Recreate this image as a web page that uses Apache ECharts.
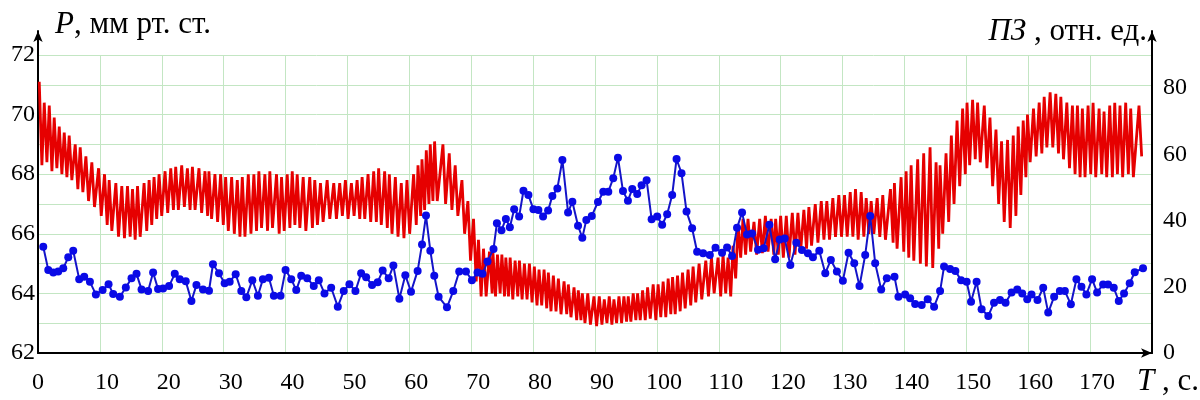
<!DOCTYPE html>
<html>
<head>
<meta charset="utf-8">
<script src="https://cdn.jsdelivr.net/npm/echarts@6.0.0/dist/echarts.min.js"></script>
<style>
html,body{margin:0;padding:0;background:#fff;}
#chart{width:1200px;height:400px;}
</style>
</head>
<body>
<div id="chart"></div>
<script>
// время ударов (с), по синим точкам
var beatT = [
 0.85,1.66,2.47,3.27,4.08,4.89,5.69,6.66,7.47,8.39,
 9.35,10.44,11.40,12.15,13.23,14.19,15.11,15.92,16.73,17.79,
 18.60,19.40,20.21,21.18,22.10,22.90,23.87,24.79,25.60,26.66,
 27.63,28.27,29.24,30.16,30.97,31.94,32.85,33.66,34.63,35.53,
 36.34,37.31,38.11,39.19,40.00,40.92,41.73,42.53,43.50,44.56,
 45.37,46.29,47.37,48.44,49.40,50.32,51.29,52.21,53.02,53.98,
 54.89,55.69,56.66,57.42,58.39,59.35,60.27,61.34,62.05,62.69,
 63.39,64.03,64.73,66.08,67.10,68.06,69.15,70.11,71.02,71.82,
 72.63,73.60,74.15,74.89,75.60,76.24,76.94,77.74,78.44,79.24,
 80.05,80.85,81.61,82.42,83.11,83.92,84.73,85.65,86.34,87.26,
 87.95,88.60,89.48,90.48,91.34,92.15,92.95,93.71,94.52,95.32,
 96.02,96.82,97.53,98.34,99.15,100.05,100.85,101.66,102.47,103.18,
 103.98,104.79,105.69,106.50,107.47,108.55,109.47,110.53,111.34,112.15,
 112.95,113.76,114.56,115.37,116.34,117.26,118.18,119.11,119.84,120.65,
 121.56,122.53,123.44,124.40,125.21,126.24,127.21,128.11,129.08,130.05,
 130.97,131.89,132.74,133.66,134.47,135.27,136.24,137.15,138.39,139.03,
 140.11,140.92,141.73,142.79,143.76,144.79,145.76,146.40,147.37,148.23,
 149.15,150.05,150.76,151.66,152.47,153.55,154.47,155.44,156.34,157.31,
 158.23,159.03,159.84,160.53,161.50,162.42,163.23,164.19,165.11,165.92,
 166.89,167.79,168.60,169.40,170.32,171.13,172.10,172.90,173.82,174.63,
 175.48,176.40,177.21,178.55
];
// ПЗ, отн. ед.
var pzVal = [
 32.1,25.1,24.3,24.6,25.6,28.9,30.9,22.3,23.0,21.5,
 17.7,19.0,20.8,17.8,17.0,19.8,22.6,23.9,19.2,18.7,
 24.3,19.3,19.5,20.2,23.9,22.3,21.7,15.7,20.5,19.2,
 18.8,26.8,24.1,21.1,21.5,23.8,18.7,16.8,22.0,17.3,
 22.3,22.7,17.3,17.3,25.1,22.3,19.0,23.3,22.6,20.2,
 22.0,18.0,19.7,14.0,18.7,20.8,18.7,24.1,22.9,20.5,
 21.4,24.9,22.6,26.4,16.4,23.5,18.5,24.8,32.8,41.5,
 30.9,23.3,17.0,13.8,18.7,24.6,24.6,22.0,24.3,23.9,
 27.6,31.4,39.2,37.1,40.5,38.0,43.4,41.2,49.0,47.7,
 43.4,43.2,41.2,43.0,47.4,49.7,58.3,42.4,45.7,38.4,
 34.8,40.2,41.4,45.6,48.7,48.7,52.8,59.0,48.9,46.0,
 49.5,48.0,50.7,52.2,40.4,41.2,38.7,41.9,47.7,58.6,
 54.3,42.7,37.7,30.6,30.1,29.6,31.8,30.3,31.9,29.3,
 37.8,42.4,35.8,36.1,31.2,31.6,38.7,28.3,34.3,34.6,
 26.6,33.3,31.1,30.1,28.9,30.9,24.1,28.1,24.6,21.8,
 30.3,27.1,20.2,29.6,41.4,27.1,19.2,22.6,23.0,17.0,
 17.7,16.5,14.8,14.5,16.2,14.0,18.7,26.1,25.4,24.8,
 22.0,21.5,15.5,21.5,13.2,11.2,15.2,16.0,15.2,18.3,
 19.2,18.0,16.2,17.7,16.0,19.7,12.2,17.0,18.7,18.7,
 14.7,22.3,20.0,17.7,22.3,18.3,20.7,20.7,19.7,15.7,
 18.0,21.1,24.4,25.6
];
// P, мм рт. ст. — максимумы в каждом ударе
var pHigh = [
 71.1,70.4,70.3,69.9,69.6,69.4,69.3,69.0,68.9,68.6,
 68.4,68.2,68.0,67.8,67.7,67.6,67.6,67.5,67.6,67.7,
 67.8,67.9,68.0,68.1,68.2,68.25,68.3,68.2,68.25,68.2,
 68.1,68.1,68.0,68.0,67.9,67.9,67.8,67.9,68.0,68.0,
 68.1,68.0,68.1,68.0,67.9,68.0,68.1,68.0,67.9,67.9,
 67.8,67.7,67.8,67.7,67.7,67.8,67.7,67.8,67.9,68.0,
 68.1,68.2,68.1,68.0,67.9,67.7,67.8,68.0,68.3,68.5,
 68.8,69.0,69.1,69.0,68.7,68.3,67.8,67.1,66.5,65.8,
 65.5,65.4,65.4,65.3,65.3,65.2,65.2,65.1,65.1,65.0,
 65.0,64.9,64.8,64.8,64.7,64.6,64.5,64.4,64.3,64.2,
 64.1,64.0,64.0,63.9,63.9,63.8,63.9,63.8,63.9,63.9,
 63.9,64.0,64.0,64.1,64.2,64.3,64.3,64.4,64.5,64.55,
 64.6,64.7,64.8,64.9,65.0,65.1,65.2,65.2,65.3,65.2,
 65.6,66.3,66.5,66.5,66.4,66.5,66.6,66.5,66.5,66.6,
 66.6,66.7,66.7,66.8,66.9,67.0,67.1,67.1,67.2,67.3,
 67.3,67.4,67.5,67.4,67.2,67.1,67.2,67.3,67.5,67.7,
 67.9,68.1,68.3,68.5,68.7,68.9,68.4,68.3,68.7,69.3,
 69.8,70.2,70.4,70.5,70.4,70.3,69.9,69.5,69.1,69.15,
 69.3,69.6,69.8,70.0,70.2,70.4,70.6,70.75,70.7,70.6,
 70.4,70.3,70.3,70.2,70.3,70.4,70.2,70.1,70.3,70.4,
 70.3,70.4,70.2,70.3
];
// минимумы
var pLow = [
 68.3,68.4,68.1,68.2,68.0,67.9,67.8,67.5,67.4,67.1,
 66.9,66.6,66.3,66.1,65.9,65.85,65.9,65.8,65.9,66.1,
 66.3,66.5,66.6,66.7,66.8,66.8,66.9,66.8,66.8,66.7,
 66.6,66.5,66.4,66.3,66.1,66.0,65.9,65.9,66.0,66.1,
 66.2,66.1,66.2,66.0,66.1,66.2,66.3,66.2,66.1,66.2,
 66.3,66.4,66.5,66.5,66.6,66.5,66.6,66.5,66.5,66.4,
 66.4,66.3,66.2,66.0,65.9,65.85,66.0,66.3,66.6,66.8,
 67.0,67.1,67.1,67.0,66.8,66.6,66.0,65.1,64.4,63.9,
 63.9,64.0,63.9,64.0,63.9,63.9,63.8,63.9,63.8,63.8,
 63.7,63.6,63.6,63.5,63.4,63.4,63.3,63.3,63.2,63.1,
 63.1,63.0,62.95,62.9,62.95,63.0,62.95,63.0,63.0,63.05,
 63.05,63.1,63.1,63.1,63.15,63.1,63.2,63.2,63.3,63.3,
 63.4,63.5,63.6,63.7,63.8,63.9,64.0,63.9,64.0,63.9,
 64.5,65.2,65.3,65.4,65.3,65.35,65.4,65.3,65.3,65.2,
 65.2,65.3,65.4,65.5,65.6,65.7,65.8,65.8,65.9,65.9,
 65.9,65.9,65.8,65.9,66.0,66.0,65.9,65.8,65.7,65.5,
 65.4,65.2,65.1,65.0,64.9,64.85,65.5,66.0,66.4,67.0,
 67.6,68.0,68.3,68.5,68.4,68.2,67.6,67.0,66.4,66.2,
 66.6,67.3,67.9,68.4,68.6,68.7,68.9,68.9,68.7,68.5,
 68.2,68.0,67.9,67.9,68.0,67.9,68.0,67.9,67.9,68.0,
 67.9,68.0,67.9,68.6
];
var xTicks = [0,10,20,30,40,50,60,70,80,90,100,110,120,130,140,150,160,170];

var FONT = 'Liberation Serif';
// положение максимума и минимума внутри удара, с
var peakShift = 0.65, lowShift = 0.22;

var redData = [];
for (var i = 0; i < beatT.length; i++) {
	redData.push([Math.max(0, beatT[i] - peakShift), pHigh[i]]);
	redData.push([beatT[i] - lowShift, pLow[i]]);
}
var blueData = [];
for (var j = 0; j < beatT.length; j++) {
	blueData.push([beatT[j], pzVal[j]]);
}

var myChart = echarts.init(document.getElementById('chart'));
var option = {
	animation: false,
	backgroundColor: '#fff',
	grid: [
		{left: 38, right: 48, top: 55, bottom: 47},
		{left: 38, right: 48, top: 31, bottom: 47}
	],
	xAxis: [
		{
			type: 'value', gridIndex: 0, min: 0, max: 180, interval: 10,
			axisLine: {show: true, symbol: ['none', 'arrow'], symbolSize: [7, 11],
				lineStyle: {color: '#000', width: 2}},
			axisTick: {show: false},
			splitLine: {show: true, lineStyle: {color: '#c3e6c3', width: 1}},
			axisLabel: {
				margin: 18, color: '#000', fontFamily: FONT, fontSize: 24,
				formatter: function(v) {
					if (xTicks.indexOf(v) < 0) return '';
					return v === 0 ? '{z|0}' : '{n|' + v + '}';
				},
				rich: {
					z: {fontFamily: FONT, fontSize: 24, color: '#000'},
					n: {fontFamily: FONT, fontSize: 24, color: '#000', padding: [0, 0, 0, 14]}
				}
			}
		},
		{type: 'value', gridIndex: 1, min: 0, max: 180, show: false}
	],
	yAxis: [
		{
			type: 'value', gridIndex: 0, min: 62, max: 72, interval: 1, position: 'left',
			axisLine: {show: false},
			axisTick: {show: false},
			splitLine: {show: true, lineStyle: {color: '#c3e6c3', width: 1}},
			axisLabel: {
				margin: 3, color: '#000', fontFamily: FONT, fontSize: 24,
				formatter: function(v) { return v % 2 === 0 ? String(v) : ''; }
			}
		},
		{
			type: 'value', gridIndex: 0, min: 0, max: 90, interval: 10, position: 'right',
			axisLine: {show: false},
			axisTick: {show: false},
			splitLine: {show: false},
			axisLabel: {
				margin: 11, color: '#000', fontFamily: FONT, fontSize: 24,
				formatter: function(v) { return (v % 20 === 0 && v <= 80) ? String(v) : ''; }
			}
		},
		{
			type: 'value', gridIndex: 1, position: 'left', min: 0, max: 1,
			axisLine: {show: true, symbol: ['none', 'arrow'], symbolSize: [7, 11],
				lineStyle: {color: '#000', width: 2}},
			axisTick: {show: false}, axisLabel: {show: false}, splitLine: {show: false}
		},
		{
			type: 'value', gridIndex: 1, position: 'right', min: 0, max: 1,
			axisLine: {show: true, symbol: ['none', 'arrow'], symbolSize: [7, 11],
				lineStyle: {color: '#000', width: 2}},
			axisTick: {show: false}, axisLabel: {show: false}, splitLine: {show: false}
		}
	],
	graphic: [
		{
			type: 'text', left: 55, top: 9,
			style: {
				text: '{i|P}, мм рт. ст.', fill: '#000',
				font: '31px "' + FONT + '"',
				rich: {i: {fontStyle: 'italic', fontFamily: FONT, fontSize: 31, fill: '#000'}}
			}
		},
		{
			type: 'text', right: 53, top: 16,
			style: {
				text: '{i|ПЗ} , отн. ед.', fill: '#000',
				font: '31px "' + FONT + '"',
				rich: {i: {fontStyle: 'italic', fontFamily: FONT, fontSize: 31, fill: '#000'}}
			}
		},
		{
			type: 'text', left: 1137, top: 366,
			style: {
				text: '{i|T} , с.', fill: '#000',
				font: '31px "' + FONT + '"',
				rich: {i: {fontStyle: 'italic', fontFamily: FONT, fontSize: 31, fill: '#000'}}
			}
		}
	],
	series: [
		{
			name: 'P', type: 'line', xAxisIndex: 0, yAxisIndex: 0,
			data: redData, showSymbol: false, z: 2,
			lineStyle: {color: '#e60000', width: 2.8}
		},
		{
			name: 'ПЗ', type: 'line', xAxisIndex: 0, yAxisIndex: 1,
			data: blueData, symbol: 'circle', symbolSize: 8, z: 3,
			itemStyle: {color: '#0a0ae6'},
			lineStyle: {color: '#1414c8', width: 2}
		}
	]
};
myChart.setOption(option);
</script>
</body>
</html>
